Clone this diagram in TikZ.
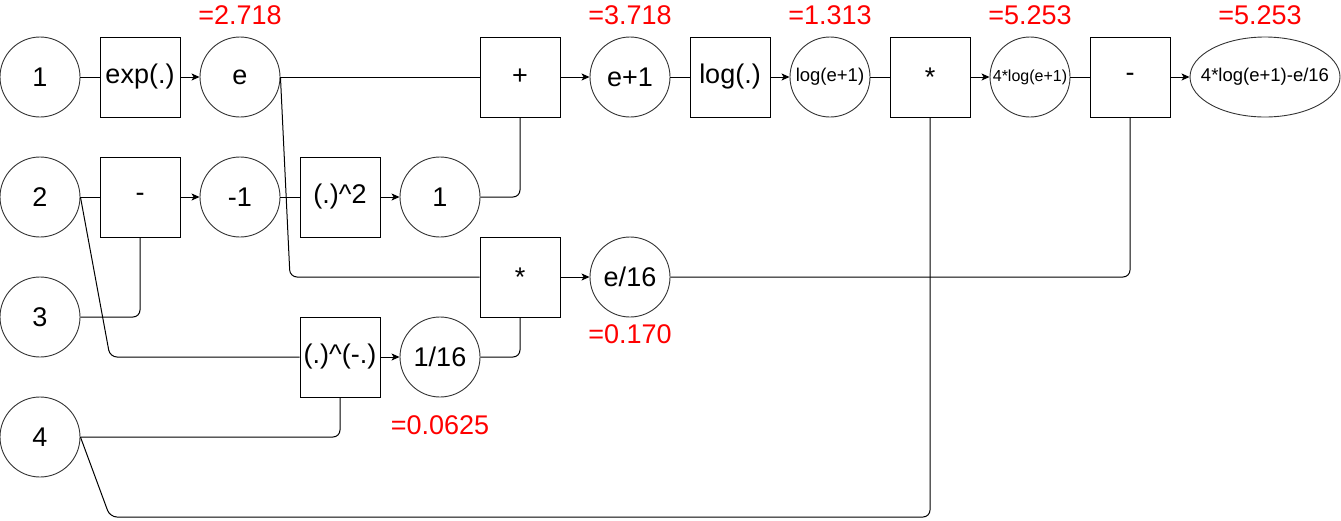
\documentclass[tikz,border=0pt]{standalone}
\usepackage{fontspec}
\setmainfont{Liberation Sans}
\usetikzlibrary{shapes.geometric,arrows.meta}
\begin{document}
\begin{tikzpicture}[x=1pt,y=-1pt,
  every node/.style={font=\fontsize{27}{30}\selectfont},
  circ/.style={draw=black!80,line width=0.9pt,circle,minimum size=80pt,inner sep=0pt},
  opbox/.style={draw,line width=1pt,rectangle,minimum size=80pt,inner sep=0pt},
  oval/.style={draw=black!80,line width=0.9pt,ellipse,minimum width=150pt,minimum height=80pt,inner sep=0pt},
  val/.style={text=red,font=\fontsize{27}{30}\selectfont},
  wire/.style={line width=1pt,rounded corners=7pt},
  arr/.style={line width=1pt,-{Stealth[length=8pt,width=7pt,inset=2pt]}},
  smallt/.style={font=\fontsize{18.5}{20}\selectfont},
  tinyt/.style={font=\fontsize{16}{18}\selectfont}
]
\useasboundingbox (0,0) rectangle (1341,520);
% row 1
\node[circ] (one) at (40,77) {1};
\node[opbox] (exp) at (140,77) {exp(.)};
\node[circ] (e) at (240,77) {e};
\node[opbox] (plus) at (520,77) {+};
\node[circ] (ep1) at (630,77) {e+1};
\node[opbox] (log) at (730,77) {log(.)};
\node[circ,smallt] (loge) at (830,77) {\makebox[0pt]{log(e+1)}};
\node[opbox] (mul1) at (930,77) {*};
\node[circ,tinyt] (four) at (1030,77) {\makebox[0pt]{4*log(e+1)}};
\node[opbox] (minus2) at (1130,77) {-};
\node[oval,smallt] (fin) at (1265,77) {\makebox[0pt]{4*log(e+1)-e/16}};
% row 2
\node[circ] (two) at (40,197) {2};
\node[opbox] (minus1) at (140,197) {-};
\node[circ] (m1) at (240,197) {-1};
\node[opbox] (sq) at (340,197) {(.)\^{}2};
\node[circ] (sqv) at (440,197) {1};
% row 2.5
\node[opbox] (mul2) at (520,277) {*};
\node[circ] (e16) at (630,277) {e/16};
% row 3
\node[circ] (three) at (40,317) {3};
\node[opbox] (pow) at (340,357) {(.)\^{}(-.)};
\node[circ] (inv) at (440,357) {1/16};
% row 4
\node[circ] (fourin) at (40,437) {4};
% values
\node[val] (v1) at (240,15) {=2.718};
\node[val] (v2) at (630,15) {=3.718};
\node[val] (v3) at (830,15) {=1.313};
\node[val] (v4) at (1030,15) {=5.253};
\node[val] (v5) at (1260,15) {=5.253};
\node[val] (v6) at (630,334) {=0.170};
\node[val] (v7) at (440,425) {=0.0625};
% wires
\draw[wire] (one) -- (exp);
\draw[arr] (exp) -- (e);
\draw[wire] (e.east) -- (plus.west);
\draw[arr] (plus) -- (ep1);
\draw[wire] (ep1) -- (log);
\draw[arr] (log) -- (loge);
\draw[wire] (loge) -- (mul1);
\draw[arr] (mul1) -- (four);
\draw[wire] (four) -- (minus2);
\draw[arr] (minus2) -- (fin);
\draw[wire] (two) -- (minus1);
\draw[arr] (minus1) -- (m1);
\draw[wire] (three.east) -- (140,317) -- (minus1.south);
\draw[wire] (m1) -- (sq);
\draw[arr] (sq) -- (sqv);
\draw[wire] (sqv.east) -- (520,197) -- (plus.south);
\draw[wire] (e.east) -- (290,277) -- (mul2.west);
\draw[arr] (mul2) -- (e16);
\draw[wire] (e16.east) -- (1130,277) -- (minus2.south);
\draw[wire] (two.east) -- (110,357) -- (pow.west);
\draw[arr] (pow) -- (inv);
\draw[wire] (inv.east) -- (520,357) -- (mul2.south);
\draw[wire] (fourin.east) -- (340,437) -- (pow.south);
\draw[wire] (fourin.east) -- (110,517) -- (930,517) -- (mul1.south);
\end{tikzpicture}
\end{document}
